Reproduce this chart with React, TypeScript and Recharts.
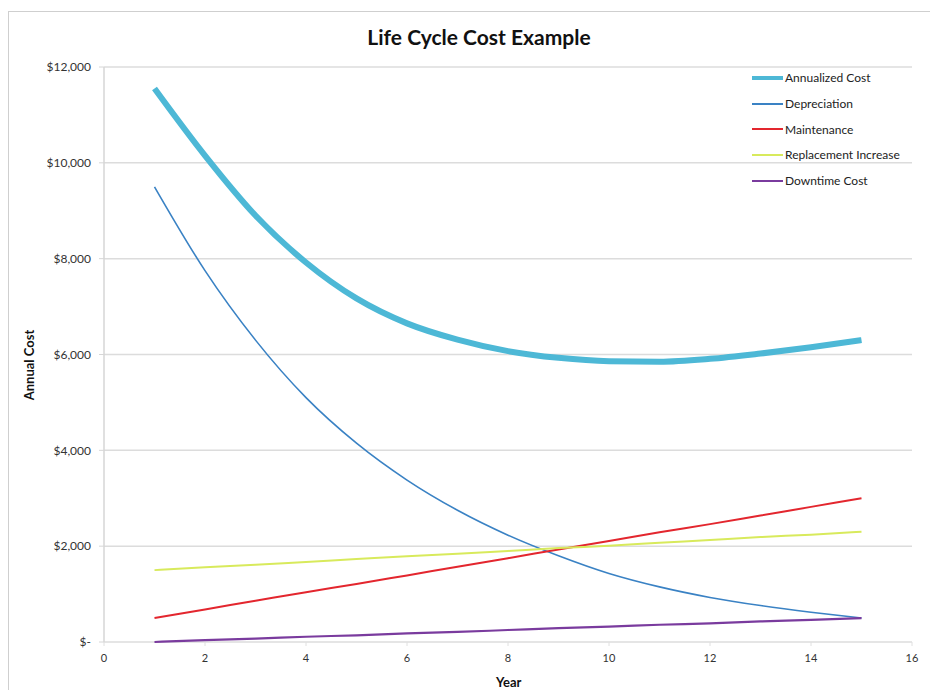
import React from "react";
import { LineChart, Line, XAxis, YAxis, CartesianGrid } from "recharts";

const years = [1, 2, 3, 4, 5, 6, 7, 8, 9, 10, 11, 12, 13, 14, 15];
const annualized = [11550, 10150, 8900, 7920, 7170, 6650, 6310, 6070, 5930, 5860, 5850, 5910, 6020, 6150, 6300];
const depreciation = [9500, 7750, 6300, 5100, 4150, 3380, 2750, 2230, 1800, 1430, 1150, 930, 760, 620, 500];
const maintenance = [500, 680, 860, 1040, 1210, 1390, 1570, 1750, 1930, 2110, 2290, 2460, 2640, 2820, 3000];
const replacement = [1500, 1560, 1610, 1670, 1730, 1790, 1840, 1900, 1960, 2010, 2070, 2130, 2190, 2240, 2300];
const downtime = [0, 40, 70, 110, 140, 180, 210, 250, 290, 320, 360, 390, 430, 460, 500];

const xTicks = [0, 2, 4, 6, 8, 10, 12, 14, 16];
const yTicks = [0, 2000, 4000, 6000, 8000, 10000, 12000];

const data = years.map((y, i) => ({
  year: y,
  annualized: annualized[i],
  depreciation: depreciation[i],
  maintenance: maintenance[i],
  replacement: replacement[i],
  downtime: downtime[i],
}));

const series = [
  { key: "annualized", name: "Annualized Cost", color: "#4db8d6", width: 6 },
  { key: "depreciation", name: "Depreciation", color: "#3a82c4", width: 1.6 },
  { key: "maintenance", name: "Maintenance", color: "#e3262e", width: 2 },
  { key: "replacement", name: "Replacement Increase", color: "#d8ea5c", width: 2 },
  { key: "downtime", name: "Downtime Cost", color: "#7a3b9e", width: 2.2 },
];

const FONT = "Lato, 'Open Sans', sans-serif";

const fmt = (v: number) => (v === 0 ? "$-" : "$" + v.toLocaleString("en-US"));

export default function App() {
  return (
    <div
      style={{
        position: "relative",
        width: 930,
        height: 682,
        borderLeft: "1px solid #cfcfcf",
        borderTop: "1px solid #cfcfcf",
        boxSizing: "border-box",
        marginTop: 3,
        background: "#fff",
      }}
    >
      <div
        style={{
          position: "absolute",
          left: 0,
          width: 940,
          top: 12,
          textAlign: "center",
          fontFamily: FONT,
          fontWeight: 700,
          fontSize: 21,
          color: "#111",
        }}
      >
        Life Cycle Cost Example
      </div>
      <div
        style={{
          position: "absolute",
          left: 5,
          top: 338,
          width: 30,
          height: 30,
          display: "flex",
          alignItems: "center",
          justifyContent: "center",
        }}
      >
        <div
          style={{
            transform: "rotate(-90deg)",
            whiteSpace: "nowrap",
            fontFamily: FONT,
            fontWeight: 700,
            fontSize: 13,
            color: "#111",
          }}
        >
          Annual Cost
        </div>
      </div>
      <div
        style={{
          position: "absolute",
          left: 487,
          top: 662,
          fontFamily: FONT,
          fontWeight: 700,
          fontSize: 13,
          color: "#111",
        }}
      >
        Year
      </div>
      <div style={{ position: "absolute", left: 0, top: 0 }}>
        <LineChart
          width={922}
          height={680}
          data={data}
          margin={{ top: 55, right: 19, left: 0, bottom: 30 }}
        >
          <CartesianGrid vertical={false} stroke="#dcdcdc" strokeWidth={1.5} />
          <XAxis
            dataKey="year"
            type="number"
            domain={[0, 16]}
            ticks={xTicks}
            height={20}
            axisLine={false}
            tickLine={{ stroke: "#e0e0e0" }}
            tickSize={4}
            tickMargin={8}
            tick={{ fontFamily: FONT, fontSize: 11, fill: "#333" }}
          />
          <YAxis
            type="number"
            domain={[0, 12000]}
            ticks={yTicks}
            width={95}
            tickFormatter={fmt}
            axisLine={{ stroke: "#d6d6d6", strokeWidth: 1.5 }}
            tickLine={{ stroke: "#d6d6d6" }}
            tickSize={5}
            tickMargin={8}
            tick={{ fontFamily: FONT, fontSize: 12, fill: "#333" }}
          />
          {series.map((s) => (
            <Line
              key={s.key}
              dataKey={s.key}
              name={s.name}
              type="monotone"
              stroke={s.color}
              strokeWidth={s.width}
              dot={false}
              activeDot={false}
              isAnimationActive={false}
            />
          ))}
        </LineChart>
      </div>
      <div
        style={{
          position: "absolute",
          left: 742,
          top: 53,
          fontFamily: FONT,
          fontSize: 12,
          color: "#222",
        }}
      >
        {series.map((s) => (
          <div key={s.key} style={{ display: "flex", alignItems: "center", height: 25.7 }}>
            <svg width={33} height={8} style={{ marginRight: 1 }}>
              <line x1={1} y1={4} x2={32} y2={4} stroke={s.color} strokeWidth={s.key === "annualized" ? 4 : 2} />
            </svg>
            <span>{s.name}</span>
          </div>
        ))}
      </div>
    </div>
  );
}
